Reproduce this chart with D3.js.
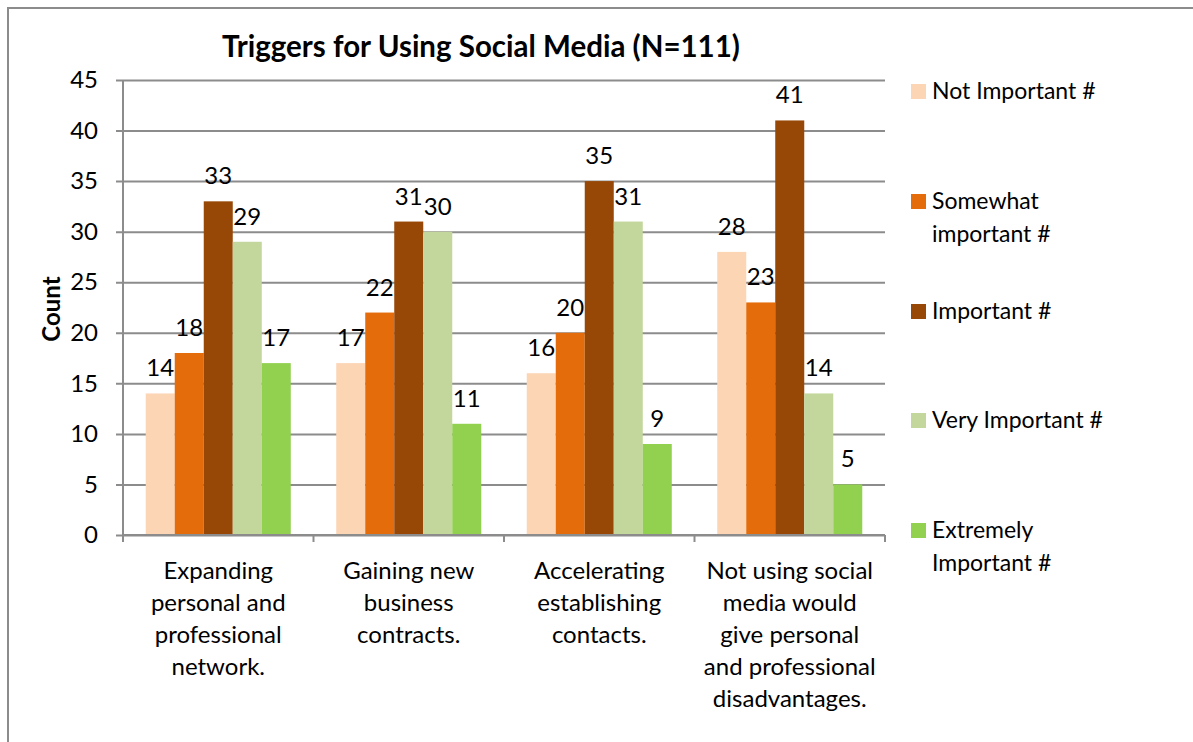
<!DOCTYPE html>
<html>
<head>
<meta charset="utf-8">
<script src="https://cdn.jsdelivr.net/npm/d3@7"></script>
<style>
  html, body { margin: 0; padding: 0; background: #fff; }
  svg { display: block; }
  text { font-family: Lato, "Open Sans", sans-serif; fill: #000; }
</style>
</head>
<body>
<svg id="chart" width="1193" height="742"></svg>
<script>
// Survey categories (line breaks mark the wrapped label lines)
const categories = [
  "Expanding\npersonal and\nprofessional\nnetwork.",
  "Gaining new\nbusiness\ncontracts.",
  "Accelerating\nestablishing\ncontacts.",
  "Not using social\nmedia would\ngive personal\nand professional\ndisadvantages."
];
const seriesNames = [
  "Not Important #",
  "Somewhat\nimportant #",
  "Important #",
  "Very Important #",
  "Extremely\nImportant #"
];
const seriesColors = ["#FCD5B5", "#E46C0A", "#974806", "#C3D69B", "#92D050"];

// Counts per category, one array per series
const notImportant      = [14, 17, 16, 28];
const somewhatImportant = [18, 22, 20, 23];
const important         = [33, 31, 35, 41];
const veryImportant     = [29, 30, 31, 14];
const extremelyImportant= [17, 11,  9,  5];
const seriesValues = [notImportant, somewhatImportant, important, veryImportant, extremelyImportant];

const yTicks = [0, 5, 10, 15, 20, 25, 30, 35, 40, 45];

const svg = d3.select("#chart");
const plot = { left: 123, right: 885, top: 80, bottom: 535 };

// outer frame
svg.append("rect")
  .attr("x", 8).attr("y", 8).attr("width", 1200).attr("height", 760)
  .attr("fill", "none").attr("stroke", "#8c8c8c").attr("stroke-width", 2);

const y = d3.scaleLinear().domain([0, 45]).range([plot.bottom, plot.top]);
const x0 = d3.scaleBand().domain(d3.range(categories.length)).range([plot.left, plot.right]).paddingInner(0).paddingOuter(0);
const x1 = d3.scaleBand().domain(d3.range(seriesNames.length)).range([0, x0.bandwidth()]).paddingInner(0).paddingOuter(0.784);

// horizontal gridlines + y axis
const yAxis = d3.axisLeft(y).tickValues(yTicks).tickSize(plot.right - plot.left + 7).tickPadding(18).tickFormat(d3.format("d"));
const gy = svg.append("g").attr("transform", `translate(${plot.right},0)`).call(yAxis);
gy.select(".domain").remove();
gy.selectAll(".tick line").attr("stroke", "#8c8c8c").attr("stroke-width", 2);
gy.selectAll(".tick text").attr("font-size", 24).attr("fill", "#000").attr("font-family", "Lato, sans-serif");

// vertical axis line
svg.append("line")
  .attr("x1", plot.left).attr("x2", plot.left)
  .attr("y1", y(45)).attr("y2", y(0))
  .attr("stroke", "#8c8c8c").attr("stroke-width", 2);

// bars
const groups = svg.append("g").selectAll("g")
  .data(categories.map((c, i) => i))
  .join("g")
  .attr("transform", i => `translate(${x0(i)},0)`);

groups.selectAll("rect")
  .data(i => seriesValues.map((vals, s) => ({ s, v: vals[i] })))
  .join("rect")
  .attr("x", d => x1(d.s))
  .attr("width", x1.bandwidth())
  .attr("y", d => y(d.v))
  .attr("height", d => y(0) - y(d.v))
  .attr("fill", d => seriesColors[d.s]);

groups.selectAll("text.val")
  .data(i => seriesValues.map((vals, s) => ({ s, v: vals[i] })))
  .join("text")
  .attr("class", "val")
  .attr("x", d => x1(d.s) + x1.bandwidth() / 2)
  .attr("y", d => y(d.v) - 17)
  .attr("text-anchor", "middle")
  .attr("font-size", 24)
  .text(d => d.v);

// x axis line and ticks
const xAxisG = svg.append("g");
xAxisG.append("line")
  .attr("x1", plot.left).attr("x2", plot.right)
  .attr("y1", plot.bottom).attr("y2", plot.bottom)
  .attr("stroke", "#8c8c8c").attr("stroke-width", 2);
xAxisG.selectAll("line.tick")
  .data(d3.range(categories.length + 1))
  .join("line")
  .attr("class", "tick")
  .attr("x1", i => i < categories.length ? x0(i) : plot.right)
  .attr("x2", i => i < categories.length ? x0(i) : plot.right)
  .attr("y1", plot.bottom).attr("y2", plot.bottom + 7)
  .attr("stroke", "#8c8c8c").attr("stroke-width", 2);

// category labels
categories.forEach((c, i) => {
  const t = svg.append("text")
    .attr("text-anchor", "middle")
    .attr("font-size", 24)
    .attr("x", x0(i) + x0.bandwidth() / 2)
    .attr("y", 579);
  c.split("\n").forEach((line, k) => {
    t.append("tspan").attr("x", x0(i) + x0.bandwidth() / 2).attr("dy", k === 0 ? 0 : 32).text(line);
  });
});

// title
svg.append("text")
  .attr("x", 481).attr("y", 57)
  .attr("text-anchor", "middle")
  .attr("font-size", 29.5).attr("font-weight", "bold")
  .text("Triggers for Using Social Media (N=111)");

// y axis title
svg.append("text")
  .attr("transform", "translate(60,309) rotate(-90)")
  .attr("text-anchor", "middle")
  .attr("font-size", 24).attr("font-weight", "bold")
  .text("Count");

// legend
const legendY = [91, 201, 311, 420, 530];
seriesNames.forEach((name, s) => {
  const g = svg.append("g").attr("transform", `translate(911,${legendY[s]})`);
  g.append("rect").attr("x", 0).attr("y", -7).attr("width", 15).attr("height", 15).attr("fill", seriesColors[s]);
  const t = g.append("text").attr("x", 21).attr("y", 8).attr("font-size", 23);
  name.split("\n").forEach((line, k) => {
    t.append("tspan").attr("x", 21).attr("dy", k === 0 ? 0 : 33).text(line);
  });
});
</script>
</body>
</html>
